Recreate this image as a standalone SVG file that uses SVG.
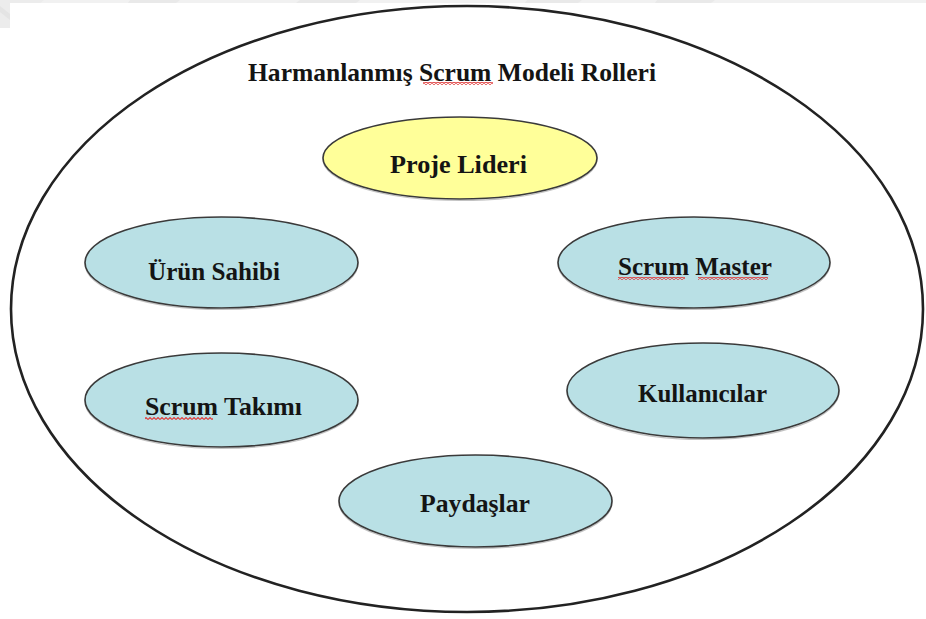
<svg xmlns="http://www.w3.org/2000/svg" width="926" height="619" viewBox="0 0 926 619">
  <defs>
    <style>
      .frame { fill: none; stroke: #222; stroke-width: 2.6; }
      .role { stroke: #3a3a3a; stroke-width: 1.6; }
      .lead { fill: #ffff99; }
      .member { fill: #b9e0e5; }
      .shadow { fill: none; stroke: #9a9a9a; stroke-width: 1.2; opacity: 0.6; }
      .label { font-family: "Liberation Serif", "Times New Roman", serif; font-weight: bold; font-size: 25px; fill: #141414; }
      .title { font-size: 26px; }
      .wave { fill: url(#wave); }
    </style>
    <!-- red wavy underline tile -->
    <pattern id="wave" patternUnits="userSpaceOnUse" width="4" height="3">
      <path d="M0 2.5 L2 0.5 L4 2.5" fill="none" stroke="#e03c3c" stroke-width="1.1"/>
    </pattern>
  </defs>

  <!-- page background and faint margin bands -->
  <rect x="0" y="0" width="926" height="619" fill="#ffffff"/>
  <rect x="0" y="0" width="926" height="3" fill="#f1f1f1"/>
  <polygon points="0,0 44,0 40,3 10,3 10,28 0,28" fill="#ececec"/>
  <polygon points="0,6 10,14 10,20 0,12" fill="#e4e4e4"/>
  <polygon points="130,0 180,0 176,3 128,3" fill="#e9e9e9"/>
  <polygon points="300,0 360,0 356,3 296,3" fill="#e9e9e9"/>
  <polygon points="527,0 582,0 578,3 525,3" fill="#e9e9e9"/>
  <polygon points="657,0 715,0 711,3 655,3" fill="#e9e9e9"/>

  <!-- outer boundary -->
  <g id="boundary">
    <ellipse class="frame" cx="467" cy="309" rx="456" ry="303"/>
    <text class="label title" x="248" y="81" textLength="408" lengthAdjust="spacingAndGlyphs">Harmanlanmış Scrum Modeli Rolleri</text>
    <rect class="wave" x="423" y="82" width="70" height="3"/>
  </g>

  <!-- connectors (none drawn) -->
  <g id="connectors"/>

  <g id="proje-lideri">
    <ellipse class="shadow" cx="460" cy="159.5" rx="137" ry="41"/>
    <ellipse class="role lead" cx="460" cy="158" rx="137" ry="41"/>
    <text class="label" x="390" y="173" textLength="137" lengthAdjust="spacingAndGlyphs">Proje Lideri</text>
  </g>

  <g id="urun-sahibi">
    <ellipse class="shadow" cx="221.5" cy="264" rx="136.5" ry="45.5"/>
    <ellipse class="role member" cx="221.5" cy="262.5" rx="136.5" ry="45.5"/>
    <text class="label" x="148" y="280" textLength="132" lengthAdjust="spacingAndGlyphs">Ürün Sahibi</text>
  </g>

  <g id="scrum-master">
    <ellipse class="shadow" cx="694" cy="264" rx="136" ry="45.5"/>
    <ellipse class="role member" cx="694" cy="262.5" rx="136" ry="45.5"/>
    <text class="label" x="618" y="275" textLength="154" lengthAdjust="spacingAndGlyphs">Scrum Master</text>
    <rect class="wave" x="618" y="277" width="67" height="3"/>
    <rect class="wave" x="698" y="277" width="70" height="3"/>
  </g>

  <g id="scrum-takimi">
    <ellipse class="shadow" cx="221.5" cy="401.5" rx="136.5" ry="47"/>
    <ellipse class="role member" cx="221.5" cy="400" rx="136.5" ry="47"/>
    <text class="label" x="145" y="415" textLength="157" lengthAdjust="spacingAndGlyphs">Scrum Takımı</text>
    <rect class="wave" x="145" y="417" width="68" height="3"/>
  </g>

  <g id="kullanicilar">
    <ellipse class="shadow" cx="703" cy="392" rx="136" ry="47.5"/>
    <ellipse class="role member" cx="703" cy="390.5" rx="136" ry="47.5"/>
    <text class="label" x="638" y="402" textLength="129" lengthAdjust="spacingAndGlyphs">Kullanıcılar</text>
  </g>

  <g id="paydaslar">
    <ellipse class="shadow" cx="475.5" cy="502.5" rx="136.5" ry="46"/>
    <ellipse class="role member" cx="475.5" cy="501" rx="136.5" ry="46"/>
    <text class="label" x="420" y="512" textLength="110" lengthAdjust="spacingAndGlyphs">Paydaşlar</text>
  </g>
</svg>
